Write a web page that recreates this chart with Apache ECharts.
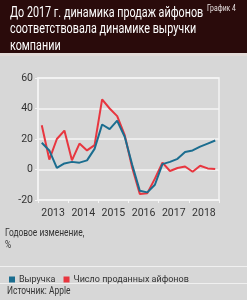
<!DOCTYPE html>
<html>
<head>
<meta charset="utf-8">
<script src="https://cdn.jsdelivr.net/npm/echarts@6/dist/echarts.min.js"></script>
<style>
  html, body { margin: 0; padding: 0; background: #d7d7d7; }
  #chart { width: 247px; height: 300px; }
</style>
</head>
<body>
<div id="chart"></div>
<script>
// кварталы 2013–2018
const quarters = [
  "I-2013", "II-2013", "III-2013", "IV-2013",
  "I-2014", "II-2014", "III-2014", "IV-2014",
  "I-2015", "II-2015", "III-2015", "IV-2015",
  "I-2016", "II-2016", "III-2016", "IV-2016",
  "I-2017", "II-2017", "III-2017", "IV-2017",
  "I-2018", "II-2018", "III-2018", "IV-2018",
];
const years = ["2013", "2014", "2015", "2016", "2017", "2018"];

// годовое изменение, %
const revenue = [17.5, 12.5, 1, 4, 5, 4.5, 6, 13.5, 29.5, 26.5, 32, 21.5, 3, -14, -15, -10, 3.5, 5, 7, 11.5, 12.5, 15, 17, 19];
const iphones = [29, 6.5, 20, 25.5, 6, 17, 12.5, 16, 46, 40, 35, 22.5, 1, -16, -15.5, -6, 4.5, -1, 1, 2, -1.5, 2.5, 0.7, 0.3];

const yTicks = { min: -20, max: 60, interval: 20 };

const FONT = "Roboto, sans-serif";
const BLUE = "#1b6d8f";
const RED = "#e8363f";

// узкий шрифт имитируем сжатием по горизонтали
const narrow = (x, y, text, size, fill, sx, extra) => ({
  type: "text", x: x, y: y, scaleX: sx, z: 10,
  style: Object.assign({ text: text, fill: fill, font: size + "px " + FONT }, extra || {}),
});

const chart = echarts.init(document.getElementById("chart"), null, { renderer: "canvas" });

chart.setOption({
  backgroundColor: "#d7d7d7",
  animation: false,
  textStyle: { fontFamily: FONT },
  graphic: [
    // шапка
    { type: "rect", shape: { x: 0, y: 0, width: 247, height: 53 }, style: { fill: "#2a0b0b" }, z: 0 },
    { type: "rect", shape: { x: 0, y: 53, width: 247, height: 3 }, style: { fill: "#e2dbd8" }, z: 0 },
    narrow(10, 5, "До 2017 г. динамика продаж айфонов\nсоответствовала динамике выручки\nкомпании", 14, "#ffffff", 0.77, { lineHeight: 16.5 }),
    narrow(207, 4, "График 4", 9.5, "#e8e0e0", 0.72),
    // подпись оси
    narrow(5, 227, "Годовое изменение,\n%", 10.5, "#333", 0.8, { lineHeight: 12 }),
    // разделители
    { type: "rect", shape: { x: 0, y: 266, width: 247, height: 1 }, style: { fill: "#f0f0f0" }, z: 0 },
    { type: "rect", shape: { x: 0, y: 283, width: 247, height: 1 }, style: { fill: "#f0f0f0" }, z: 0 },
    narrow(7, 286, "Источник: Apple", 10.5, "#333", 0.8),
  ],
  legend: {
    left: 4, top: 270,
    icon: "rect", itemWidth: 6, itemHeight: 6, itemGap: 8,
    textStyle: { color: "#333", fontSize: 9, fontFamily: FONT, padding: [0, 0, 0, -1] },
    data: ["Выручка", "Число проданных айфонов"],
  },
  grid: {
    left: 38, right: 28, top: 78, bottom: 100,
    show: true, borderColor: "#f4f4f4", borderWidth: 1.5, backgroundColor: "transparent",
  },
  xAxis: [
    { type: "category", data: quarters, boundaryGap: true, show: false },
    {
      type: "category", data: years, boundaryGap: true, position: "bottom",
      axisLine: { lineStyle: { color: "#f4f4f4", width: 1.5 } },
      axisTick: { show: true, length: 3, lineStyle: { color: "#f4f4f4" } },
      axisLabel: { color: "#333", fontSize: 10.5, margin: 8, interval: 0, fontFamily: FONT },
    },
  ],
  yAxis: {
    type: "value", ...yTicks,
    axisLine: { show: true, lineStyle: { color: "#f4f4f4", width: 1.5 } },
    axisTick: { show: true, length: 3, lineStyle: { color: "#f4f4f4" } },
    axisLabel: { color: "#333", fontSize: 10.5, margin: 5, fontFamily: FONT },
    splitLine: { lineStyle: { color: "#f4f4f4", width: 1.5 } },
  },
  series: [
    {
      name: "Выручка", type: "line", xAxisIndex: 0, data: revenue,
      symbol: "none", lineStyle: { color: BLUE, width: 2 }, itemStyle: { color: BLUE }, z: 3,
    },
    {
      name: "Число проданных айфонов", type: "line", xAxisIndex: 0, data: iphones,
      symbol: "none", lineStyle: { color: RED, width: 2 }, itemStyle: { color: RED }, z: 2,
    },
  ],
});
</script>
</body>
</html>
